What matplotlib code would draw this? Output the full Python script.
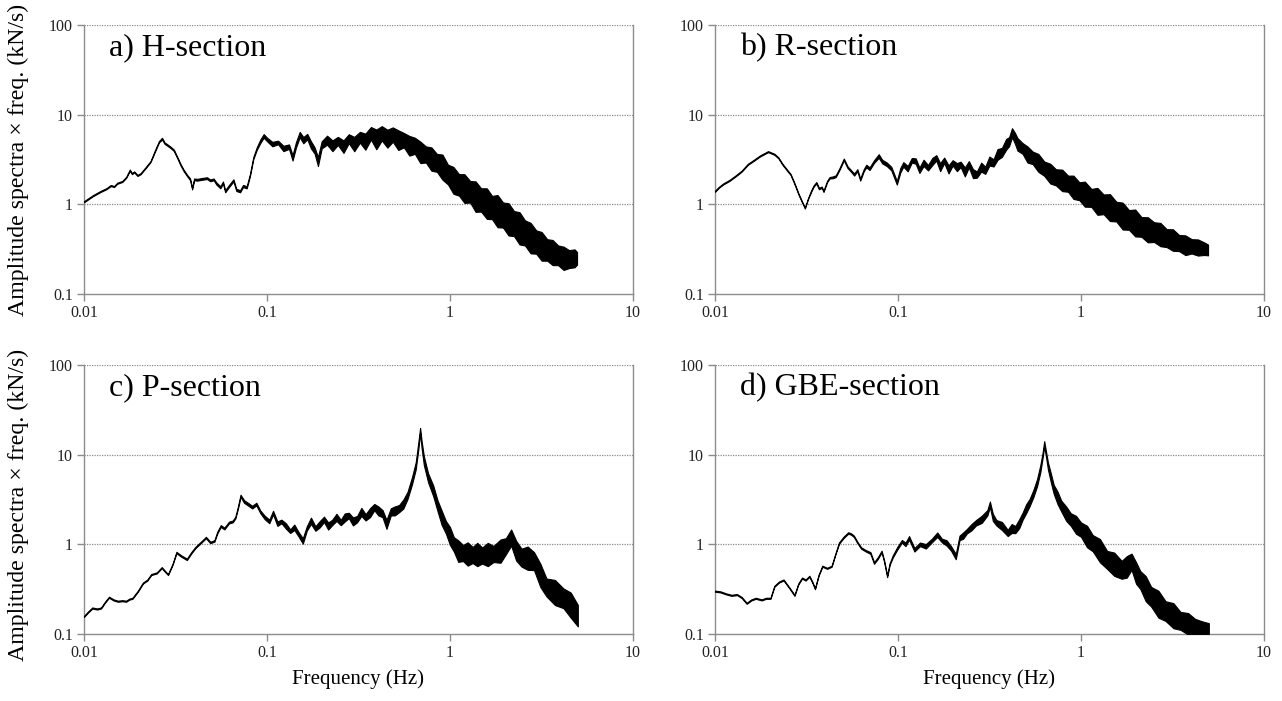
import numpy as np
import matplotlib.pyplot as plt

plt.rcParams['font.family'] = ['Liberation Serif', 'DejaVu Serif']

# each row: frequency (Hz), amplitude spectra x freq. (kN/s), half-width of the noise band (decades)
a_spec = [
    (0.0100, 1.07, .006), (0.0112, 1.25, .006), (0.0123, 1.39, .006), (0.0133, 1.50, .006),
    (0.0140, 1.62, .006), (0.0146, 1.58, .006), (0.0152, 1.72, .006), (0.0162, 1.80, .006),
    (0.0170, 2.00, .006), (0.0178, 2.40, .008), (0.0183, 2.20, .006), (0.0188, 2.30, .006),
    (0.0196, 2.10, .006), (0.0204, 2.20, .006), (0.0215, 2.50, .006), (0.0231, 3.00, .006),
    (0.0245, 4.00, .008), (0.0257, 5.00, .008), (0.0267, 5.40, .01), (0.0276, 4.80, .008),
    (0.0285, 4.60, .008), (0.0298, 4.30, .008), (0.0310, 4.00, .008), (0.0324, 3.30, .008),
    (0.0337, 2.77, .008), (0.0350, 2.40, .008), (0.0366, 2.10, .008), (0.0380, 1.90, .01),
    (0.0390, 1.50, .01), (0.0400, 1.90, .01), (0.0415, 1.88, .01), (0.0440, 1.92, .01),
    (0.0470, 1.96, .01), (0.0490, 1.85, .01), (0.0511, 1.90, .01), (0.0530, 1.70, .012),
    (0.0556, 1.55, .012), (0.0575, 1.75, .012), (0.0591, 1.40, .012), (0.0620, 1.60, .012),
    (0.0656, 1.85, .012), (0.0680, 1.45, .012), (0.0713, 1.40, .012), (0.0740, 1.60, .012),
    (0.0775, 1.55, .012), (0.0808, 2.14, .012), (0.0842, 3.28, .012), (0.0880, 4.20, .015),
    (0.0920, 5.06, .02), (0.0960, 5.80, .02), (0.100, 5.30, .02), (0.107, 4.70, .025),
    (0.115, 4.90, .02), (0.123, 4.20, .03), (0.132, 4.40, .025), (0.138, 3.30, .03),
    (0.144, 4.60, .03), (0.151, 6.00, .03), (0.158, 5.20, .035), (0.166, 5.70, .03),
    (0.174, 4.60, .04), (0.182, 4.00, .035), (0.190, 3.00, .05), (0.199, 4.60, .04),
    (0.213, 5.20, .05), (0.228, 4.50, .06), (0.244, 5.10, .045), (0.262, 4.40, .07),
    (0.280, 5.40, .05), (0.300, 4.70, .08), (0.322, 5.60, .06), (0.345, 5.00, .09),
    (0.370, 6.20, .07), (0.396, 5.30, .11), (0.424, 6.20, .08), (0.455, 5.40, .10),
    (0.487, 6.00, .08), (0.522, 5.20, .11), (0.560, 5.20, .08), (0.600, 4.50, .11),
    (0.643, 4.50, .09), (0.689, 3.80, .12), (0.739, 3.60, .09), (0.792, 3.20, .13),
    (0.849, 2.90, .10), (0.910, 2.60, .14), (0.975, 2.15, .11), (1.045, 1.85, .15),
    (1.12, 1.65, .12), (1.20, 1.50, .16), (1.29, 1.38, .12), (1.38, 1.22, .17),
    (1.48, 1.12, .13), (1.59, 1.02, .17), (1.70, 0.92, .13), (1.82, 0.84, .18),
    (1.95, 0.76, .14), (2.09, 0.68, .18), (2.24, 0.61, .14), (2.40, 0.54, .18),
    (2.57, 0.48, .14), (2.76, 0.42, .17), (2.96, 0.38, .13), (3.17, 0.34, .16),
    (3.40, 0.31, .12), (3.64, 0.29, .14), (3.90, 0.27, .11), (4.18, 0.25, .13),
    (4.48, 0.245, .10), (4.80, 0.25, .10), (4.95, 0.25, .07),
]

b_spec = [
    (0.0100, 1.40, .006), (0.0105, 1.55, .006), (0.0111, 1.69, .006), (0.0120, 1.85, .006),
    (0.0129, 2.06, .006), (0.0140, 2.35, .006), (0.0151, 2.79, .006), (0.0163, 3.10, .006),
    (0.0176, 3.46, .006), (0.0195, 3.87, .006), (0.0211, 3.62, .006), (0.0222, 3.30, .006),
    (0.0234, 2.79, .006), (0.0246, 2.45, .006), (0.0259, 2.15, .006), (0.0272, 1.70, .006),
    (0.0287, 1.28, .006), (0.0300, 1.05, .006), (0.0310, 0.91, .006), (0.0322, 1.15, .006),
    (0.0335, 1.40, .008), (0.0346, 1.60, .008), (0.0358, 1.74, .008), (0.0370, 1.50, .008),
    (0.0383, 1.55, .008), (0.0392, 1.40, .008), (0.0410, 1.80, .008), (0.0423, 1.98, .008),
    (0.0440, 2.00, .01), (0.0457, 2.06, .01), (0.0480, 2.50, .01), (0.0506, 3.17, .01),
    (0.0530, 2.60, .01), (0.0560, 2.30, .01), (0.0576, 2.15, .012), (0.0600, 2.40, .012),
    (0.0622, 1.89, .012), (0.0650, 2.40, .012), (0.0671, 2.67, .015), (0.0700, 2.50, .015),
    (0.0740, 3.00, .015), (0.0785, 3.46, .02), (0.0820, 3.00, .02), (0.0870, 2.79, .02),
    (0.0920, 2.50, .02), (0.0986, 1.74, .02), (0.103, 2.40, .025), (0.107, 2.79, .025),
    (0.113, 2.50, .03), (0.119, 3.10, .025), (0.125, 3.04, .03), (0.131, 2.40, .03),
    (0.138, 2.90, .035), (0.146, 2.56, .03), (0.154, 3.00, .04), (0.162, 3.30, .03),
    (0.170, 2.60, .045), (0.179, 3.10, .03), (0.189, 2.45, .045), (0.199, 2.90, .03),
    (0.210, 2.60, .045), (0.220, 2.79, .03), (0.232, 2.30, .05), (0.244, 2.80, .035),
    (0.257, 2.20, .05), (0.270, 2.15, .035), (0.285, 2.60, .05), (0.300, 2.40, .04),
    (0.316, 3.04, .05), (0.333, 2.90, .04), (0.350, 3.60, .06), (0.370, 3.80, .05),
    (0.390, 4.67, .06), (0.405, 5.00, .05), (0.420, 6.30, .05), (0.435, 5.50, .06),
    (0.450, 4.67, .07), (0.480, 4.20, .06), (0.510, 3.60, .09), (0.545, 3.30, .07),
    (0.585, 2.90, .10), (0.630, 2.50, .08), (0.680, 2.20, .11), (0.730, 2.00, .09),
    (0.790, 1.85, .12), (0.850, 1.70, .09), (0.910, 1.55, .13), (0.980, 1.40, .10),
    (1.05, 1.30, .14), (1.14, 1.18, .10), (1.23, 1.08, .15), (1.33, 1.00, .11),
    (1.44, 0.92, .15), (1.56, 0.83, .11), (1.69, 0.74, .15), (1.83, 0.67, .11),
    (1.98, 0.62, .15), (2.14, 0.56, .11), (2.32, 0.52, .14), (2.51, 0.49, .11),
    (2.72, 0.46, .13), (2.94, 0.42, .10), (3.18, 0.40, .12), (3.44, 0.37, .09),
    (3.72, 0.35, .11), (4.03, 0.34, .08), (4.36, 0.33, .09), (4.72, 0.32, .07),
    (4.95, 0.31, .06),
]

c_spec = [
    (0.0100, 0.157, .006), (0.0105, 0.175, .006), (0.0111, 0.195, .006), (0.0118, 0.190, .006),
    (0.0124, 0.195, .006), (0.0130, 0.225, .006), (0.0137, 0.257, .006), (0.0145, 0.240, .006),
    (0.0153, 0.232, .006), (0.0162, 0.235, .006), (0.0170, 0.232, .006), (0.0177, 0.245, .006),
    (0.0184, 0.250, .006), (0.0197, 0.300, .006), (0.0210, 0.370, .006), (0.0222, 0.400, .006),
    (0.0233, 0.460, .006), (0.0250, 0.480, .006), (0.0266, 0.550, .006), (0.0277, 0.500, .006),
    (0.0288, 0.460, .006), (0.0305, 0.600, .006), (0.0320, 0.810, .008), (0.0340, 0.740, .008),
    (0.0365, 0.680, .008), (0.0385, 0.800, .008), (0.0406, 0.920, .008), (0.0435, 1.050, .008),
    (0.0464, 1.190, .008), (0.0490, 1.050, .008), (0.0516, 1.090, .008), (0.0535, 1.350, .01),
    (0.0559, 1.600, .01), (0.0585, 1.500, .01), (0.0620, 1.750, .01), (0.0650, 1.800, .01),
    (0.0672, 1.990, .01), (0.0695, 2.600, .012), (0.0717, 3.480, .012), (0.0750, 3.000, .015),
    (0.0787, 2.810, .015), (0.0830, 2.600, .015), (0.0875, 2.810, .015), (0.0920, 2.300, .015),
    (0.0973, 1.990, .02), (0.103, 1.800, .02), (0.108, 2.260, .02), (0.114, 1.700, .025),
    (0.120, 1.800, .02), (0.127, 1.600, .03), (0.134, 1.400, .02), (0.141, 1.550, .03),
    (0.149, 1.290, .025), (0.157, 1.090, .03), (0.165, 1.500, .025), (0.174, 1.830, .035),
    (0.184, 1.500, .025), (0.194, 1.670, .035), (0.205, 1.900, .03), (0.216, 1.600, .04),
    (0.227, 1.750, .03), (0.240, 2.000, .04), (0.253, 1.750, .03), (0.266, 1.990, .045),
    (0.280, 2.100, .03), (0.295, 1.800, .045), (0.311, 1.910, .035), (0.328, 2.300, .045),
    (0.346, 2.000, .035), (0.366, 2.260, .05), (0.386, 2.600, .035), (0.406, 2.360, .05),
    (0.428, 2.200, .04), (0.450, 1.670, .05), (0.475, 2.300, .04), (0.500, 2.360, .05),
    (0.527, 2.500, .04), (0.556, 2.810, .05), (0.586, 3.500, .04), (0.620, 5.100, .04),
    (0.650, 7.500, .04), (0.670, 12.00, .04), (0.687, 18.60, .03), (0.700, 13.00, .04),
    (0.720, 8.600, .05), (0.760, 5.500, .05), (0.810, 3.960, .06), (0.855, 2.700, .06),
    (0.900, 1.990, .08), (0.950, 1.550, .07), (1.00, 1.240, .10), (1.05, 1.000, .08),
    (1.11, 0.840, .12), (1.18, 0.800, .09), (1.25, 0.780, .13), (1.33, 0.760, .09),
    (1.41, 0.770, .13), (1.50, 0.750, .09), (1.61, 0.770, .13), (1.73, 0.780, .09),
    (1.89, 0.840, .13), (2.02, 0.950, .09), (2.16, 1.190, .09), (2.30, 0.850, .11),
    (2.46, 0.710, .10), (2.66, 0.700, .13), (2.88, 0.650, .10), (3.12, 0.450, .13),
    (3.37, 0.330, .10), (3.75, 0.290, .14), (4.17, 0.250, .11), (4.57, 0.210, .14),
    (5.00, 0.160, .12),
]

d_spec = [
    (0.0100, 0.300, .006), (0.0107, 0.295, .006), (0.0115, 0.280, .006), (0.0123, 0.270, .006),
    (0.0132, 0.275, .006), (0.0140, 0.255, .006), (0.0149, 0.220, .006), (0.0158, 0.240, .006),
    (0.0167, 0.250, .006), (0.0180, 0.240, .006), (0.0190, 0.250, .006), (0.0201, 0.250, .006),
    (0.0211, 0.340, .006), (0.0224, 0.380, .006), (0.0237, 0.400, .006), (0.0254, 0.330, .006),
    (0.0272, 0.270, .006), (0.0285, 0.360, .006), (0.0299, 0.420, .006), (0.0313, 0.400, .006),
    (0.0328, 0.440, .006), (0.0340, 0.380, .006), (0.0352, 0.320, .006), (0.0368, 0.450, .006),
    (0.0386, 0.570, .006), (0.0410, 0.540, .006), (0.0434, 0.570, .006), (0.0455, 0.780, .006),
    (0.0476, 1.030, .008), (0.0505, 1.200, .008), (0.0535, 1.340, .008), (0.0555, 1.300, .008),
    (0.0574, 1.230, .008), (0.0600, 1.050, .008), (0.0629, 0.910, .008), (0.0665, 0.850, .008),
    (0.0707, 0.800, .01), (0.0740, 0.620, .01), (0.0775, 0.700, .01), (0.0814, 0.830, .01),
    (0.0840, 0.650, .01), (0.0873, 0.440, .01), (0.0900, 0.600, .01), (0.0936, 0.730, .012),
    (0.0990, 0.900, .015), (0.105, 1.080, .015), (0.110, 1.000, .02), (0.115, 1.180, .02),
    (0.123, 0.870, .02), (0.132, 1.000, .02), (0.142, 0.950, .025), (0.153, 1.100, .02),
    (0.164, 1.280, .025), (0.174, 1.100, .02), (0.184, 1.040, .03), (0.195, 0.900, .025),
    (0.207, 0.730, .03), (0.217, 1.180, .025), (0.227, 1.250, .035), (0.238, 1.400, .025),
    (0.252, 1.550, .035), (0.267, 1.740, .03), (0.287, 1.900, .04), (0.308, 2.250, .03),
    (0.318, 2.800, .03), (0.330, 2.000, .04), (0.345, 1.740, .03), (0.370, 1.600, .045),
    (0.398, 1.340, .035), (0.418, 1.500, .05), (0.438, 1.460, .04), (0.460, 1.700, .05),
    (0.480, 2.060, .04), (0.502, 2.500, .05), (0.524, 2.920, .04), (0.550, 3.700, .04),
    (0.576, 4.900, .04), (0.600, 7.000, .04), (0.617, 9.800, .03), (0.630, 13.20, .03),
    (0.645, 10.00, .03), (0.660, 7.500, .04), (0.685, 5.500, .05), (0.710, 4.100, .05),
    (0.745, 3.300, .07), (0.780, 2.680, .06), (0.830, 2.200, .08), (0.880, 1.890, .07),
    (0.940, 1.650, .10), (1.00, 1.460, .08), (1.08, 1.220, .12), (1.16, 1.030, .09),
    (1.27, 0.850, .13), (1.39, 0.670, .10), (1.52, 0.600, .13), (1.67, 0.520, .10),
    (1.78, 0.560, .12), (1.89, 0.640, .09), (2.00, 0.480, .12), (2.11, 0.400, .10),
    (2.26, 0.320, .14), (2.42, 0.260, .11), (2.65, 0.215, .15), (2.90, 0.180, .11),
    (3.20, 0.160, .14), (3.50, 0.140, .10), (3.85, 0.130, .12), (4.20, 0.120, .09),
    (4.60, 0.115, .08), (5.00, 0.115, .06),
]

titles = ['a) H-section', 'b) R-section', 'c) P-section', 'd) GBE-section']
spectra = [a_spec, b_spec, c_spec, d_spec]

# axes boxes in figure fractions (left, bottom, width, height)
boxes = [(0.0655, 0.5806, 0.4282, 0.3837), (0.5577, 0.5806, 0.4282, 0.3837),
         (0.0655, 0.0956, 0.4282, 0.3837), (0.5577, 0.0956, 0.4282, 0.3837)]

GRAY = '#8c8c8c'
YLABEL = 'Amplitude spectra \u00d7 freq. (kN/s)'

fig = plt.figure(figsize=(12.82, 7.01), dpi=100)

for i, (box, title, spec) in enumerate(zip(boxes, titles, spectra)):
    ax = fig.add_axes(box)
    f, v, w = (np.array(col) for col in zip(*spec))
    lo = v / 10 ** w
    hi = v * 10 ** w
    ax.fill_between(f, lo, hi, color='k', lw=0.8, zorder=3)

    ax.set_xscale('log')
    ax.set_yscale('log')
    ax.set_xlim(0.01, 10)
    ax.set_ylim(0.1, 100)
    ax.set_xticks([0.01, 0.1, 1, 10])
    ax.set_xticklabels(['0.01', '0.1', '1', '10'])
    ax.set_yticks([0.1, 1, 10, 100])
    ax.set_yticklabels(['0.1', '1', '10', '100'])
    ax.minorticks_off()
    ax.tick_params(axis='both', direction='out', length=5, width=1, color=GRAY,
                   labelsize=11.5, labelcolor='#222222', pad=3)

    for g in [1, 10, 100]:
        ax.axhline(g, color='#8a8a8a', lw=0.9, ls=(0, (1, 1)), zorder=1)

    ax.spines['top'].set_visible(False)
    for s in ['left', 'bottom', 'right']:
        ax.spines[s].set_color(GRAY)
        ax.spines[s].set_linewidth(1.0)

    ax.text(0.045, 0.915, title, transform=ax.transAxes, fontsize=23,
            va='center', ha='left')

    if i >= 2:
        ax.set_xlabel('Frequency (Hz)', fontsize=15, labelpad=6)

for yc in [0.772, 0.280]:
    fig.text(0.0145, yc, YLABEL, rotation=90, fontsize=17.2,
             va='center', ha='center')

fig.savefig('out.png', dpi=100)
